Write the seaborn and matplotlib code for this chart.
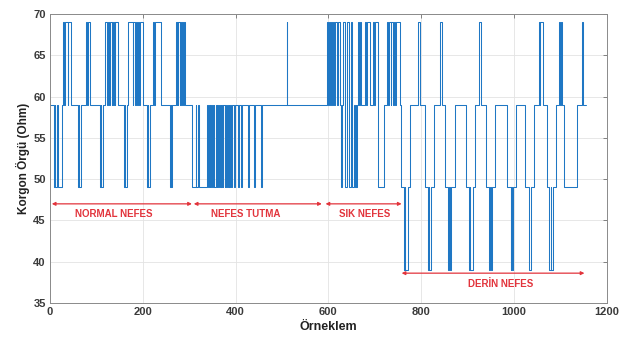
import matplotlib
matplotlib.use("Agg")
import matplotlib.pyplot as plt
import seaborn as sns
import pandas as pd

# Breakpoints (sample index) and the level held from each breakpoint (steps-post)
seg_x = [
    # NORMAL NEFES
    0, 8, 11, 12, 16, 17, 25,
    28, 31, 33, 38, 39, 45,
    60, 62, 63, 66,
    78, 80, 82, 86,
    108, 110, 111, 114,
    118, 122, 126, 128, 130, 133, 134, 137, 138, 140, 141, 146,
    159, 161, 162, 166,
    168, 178, 180, 184, 186, 188, 190, 193, 195, 200,
    209, 211, 212, 215,
    222, 224, 226, 240,
    258, 260, 261, 263,
    271, 273, 274, 276, 277, 280, 281, 283, 284, 287, 288, 291,
    # NEFES TUTMA
    306, 314, 315, 320, 321, 338,
    340, 342, 344, 346, 348, 349, 351, 353, 354, 357, 359, 361, 363, 364,
    366, 368, 369, 371, 373, 374, 377, 378, 380, 382, 383, 385, 387, 388,
    391, 393,
    397, 399, 406, 408, 412, 414, 426, 428, 439, 441, 454, 456,
    510, 512,
    # SIK NEFES
    597, 599, 601, 604, 605, 609, 611, 613, 615, 618, 620, 625,
    628, 630, 632, 635, 637, 640, 641, 644, 645, 648, 649, 651, 652, 655,
    657, 659, 660, 662, 664, 666, 668, 671,
    679, 681, 683, 689,
    697, 699, 701, 706,
    708, 720,
    727, 729, 731, 735, 736, 740, 742, 744, 746, 754,
    # DERIN NEFES
    757, 763, 765, 766, 771, 777,
    793, 797,
    808, 815, 817, 818, 821, 828,
    840, 845,
    852, 859, 861, 862, 865, 872,
    897, 903, 905, 906, 911, 917,
    924, 929,
    940, 947, 949, 950, 953, 960,
    985, 993, 994, 995, 997, 1005,
    1024, 1032, 1036, 1044,
    1054, 1056, 1057, 1062,
    1071, 1076, 1079, 1080, 1085, 1091,
    1097, 1099, 1101, 1103,
    1109, 1137,
    1146, 1149, 1155,
]
seg_y = [
    59, 49, 59, 49, 59, 49, 59,
    69, 59, 69, 59, 69, 59,
    49, 59, 49, 59,
    69, 59, 69, 59,
    49, 59, 49, 59,
    69, 59, 69, 59, 69, 59, 69, 59, 69, 59, 69, 59,
    49, 59, 49, 59,
    69, 59, 69, 59, 69, 59, 69, 59, 69, 59,
    49, 59, 49, 59,
    69, 59, 69, 59,
    49, 59, 49, 59,
    69, 59, 69, 59, 69, 59, 69, 59, 69, 59, 69, 59,
    49, 59, 49, 59, 49, 59,
    49, 59, 49, 59, 49, 59, 49, 59, 49, 59, 49, 59, 49, 59,
    49, 59, 49, 59, 49, 59, 49, 59, 49, 59, 49, 59, 49, 59,
    49, 59,
    49, 59, 49, 59, 49, 59, 49, 59, 49, 59, 49, 59,
    69, 59,
    69, 59, 69, 59, 69, 59, 69, 59, 69, 59, 69, 59,
    49, 59, 69, 59, 49, 59, 69, 59, 49, 59, 69, 59, 49, 59,
    49, 59, 49, 59, 69, 59, 69, 59,
    69, 59, 69, 59,
    69, 59, 69, 59,
    49, 59,
    69, 59, 69, 59, 69, 59, 69, 59, 69, 59,
    49, 39, 49, 39, 49, 59,
    69, 59,
    49, 39, 49, 39, 49, 59,
    69, 59,
    49, 39, 49, 39, 49, 59,
    49, 39, 49, 39, 49, 59,
    69, 59,
    49, 39, 49, 39, 49, 59,
    49, 39, 49, 39, 49, 59,
    49, 39, 49, 59,
    69, 59, 69, 59,
    49, 39, 49, 39, 49, 59,
    69, 59, 69, 59,
    49, 59,
    69, 59, 59,
]

phase_labels = ["NORMAL NEFES", "NEFES TUTMA", "SIK NEFES", "DERİN NEFES"]
phase_start = [4, 310, 594, 758]
phase_end = [306, 586, 758, 1152]
phase_arrow_y = [47, 47, 47, 38.6]
phase_text_x = [138, 422, 678, 971]
phase_text_y = [45.8, 45.8, 45.8, 37.3]

x_ticks = [0, 200, 400, 600, 800, 1000, 1200]
y_ticks = [35, 40, 45, 50, 55, 60, 65, 70]

sns.set_theme(style="whitegrid")
plt.rcParams["font.family"] = ["Liberation Sans", "DejaVu Sans"]

fig = plt.figure(figsize=(6.32, 3.43), dpi=100)
ax = fig.add_axes([0.079, 0.117, 0.881, 0.842])

df = pd.DataFrame({"x": seg_x, "y": seg_y})
sns.lineplot(data=df, x="x", y="y", ax=ax, color="#1f77c4", linewidth=0.75,
             drawstyle="steps-post", estimator=None, sort=False)

ax.set_xlim(0, 1200)
ax.set_ylim(35, 70)
ax.set_xticks(x_ticks)
ax.set_yticks(y_ticks)
ax.grid(True, color="#e3e3e3", linewidth=0.6)
for s in ax.spines.values():
    s.set_visible(True)
    s.set_color("#8a8a8a")
    s.set_linewidth(0.7)
ax.tick_params(axis="both", which="both", direction="in", length=3, width=0.6,
               color="#707070", top=True, right=True, labelsize=8,
               labelcolor="#3a3a3a", pad=3)
for lab in ax.get_xticklabels() + ax.get_yticklabels():
    lab.set_fontweight("bold")

ax.set_xlabel("Örneklem", fontsize=9, fontweight="bold", color="#222222", labelpad=3)
ax.set_ylabel("Korgon Örgü (Ohm)", fontsize=8.5, fontweight="bold", color="#222222", labelpad=2)

red = "#e2343c"
for lab, x0, x1, ya, tx, ty in zip(phase_labels, phase_start, phase_end,
                                   phase_arrow_y, phase_text_x, phase_text_y):
    ax.annotate("", xy=(x1, ya), xytext=(x0, ya),
                arrowprops=dict(arrowstyle="<|-|>", color=red, lw=0.9,
                                mutation_scale=5, shrinkA=0, shrinkB=0))
    ax.text(tx, ty, lab, color=red, fontsize=7, fontweight="bold",
            ha="center", va="center")

fig.savefig("out.png", dpi=100)
